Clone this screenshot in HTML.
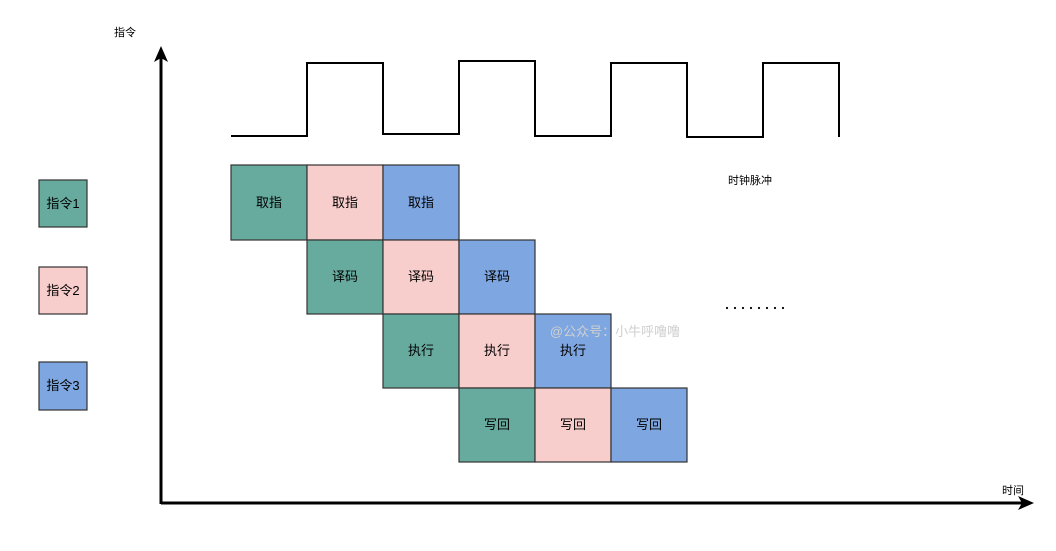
<!DOCTYPE html>
<html><head><meta charset="utf-8"><style>
html,body{margin:0;padding:0;background:#fff;}
text{font-family:"Liberation Sans","Noto Sans CJK SC",sans-serif;}
</style></head><body>
<svg width="1056" height="546" xmlns="http://www.w3.org/2000/svg">
<g stroke="#000" stroke-width="2" fill="none">
<polyline points="231,136 307,136 307,63 383,63 383,134 459,134 459,61 535,61 535,136 611,136 611,63 687,63 687,137 763,137 763,63 839,63 839,137"/>
</g>
<line x1="161" y1="504" x2="161" y2="58" stroke="#000" stroke-width="3"/>
<polygon points="161,46 154,62 161,58 168,62" fill="#000"/>
<line x1="161" y1="503" x2="1022" y2="503" stroke="#000" stroke-width="3"/>
<polygon points="1034,503 1018,496 1022,503 1018,510" fill="#000"/>
<g stroke="#333" stroke-width="1.2" font-size="13" text-anchor="middle">
<rect x="39" y="180" width="48" height="47" fill="#67ab9f"/>
<rect x="39" y="267" width="48" height="47" fill="#f8cecc"/>
<rect x="39" y="362" width="48" height="48" fill="#7ea6e0"/>
<rect x="231" y="165" width="76" height="75" fill="#67ab9f"/>
<rect x="307" y="165" width="76" height="75" fill="#f8cecc"/>
<rect x="383" y="165" width="76" height="75" fill="#7ea6e0"/>
<rect x="307" y="240" width="76" height="74" fill="#67ab9f"/>
<rect x="383" y="240" width="76" height="74" fill="#f8cecc"/>
<rect x="459" y="240" width="76" height="74" fill="#7ea6e0"/>
<rect x="383" y="314" width="76" height="74" fill="#67ab9f"/>
<rect x="459" y="314" width="76" height="74" fill="#f8cecc"/>
<rect x="535" y="314" width="76" height="74" fill="#7ea6e0"/>
<rect x="459" y="388" width="76" height="74" fill="#67ab9f"/>
<rect x="535" y="388" width="76" height="74" fill="#f8cecc"/>
<rect x="611" y="388" width="76" height="74" fill="#7ea6e0"/>
</g>
<g font-size="13" text-anchor="middle" fill="#000">
<text x="63" y="208">指令1</text>
<text x="63" y="295">指令2</text>
<text x="63" y="390">指令3</text>
<text x="269" y="207">取指</text><text x="345" y="207">取指</text><text x="421" y="207">取指</text>
<text x="345" y="281">译码</text><text x="421" y="281">译码</text><text x="497" y="281">译码</text>
<text x="421" y="355">执行</text><text x="497" y="355">执行</text><text x="573" y="355">执行</text>
<text x="497" y="429">写回</text><text x="573" y="429">写回</text><text x="649" y="429">写回</text>
<text x="125" y="36" font-size="11">指令</text>
<text x="1013" y="494" font-size="11">时间</text>
<text x="750" y="184" font-size="11">时钟脉冲</text>
<text x="615" y="336" font-size="13" fill="#d0d0d0">@公众号：小牛呼噜噜</text>
</g>
<g fill="#000">
<circle cx="727" cy="308" r="1.1"/><circle cx="735" cy="308" r="1.1"/><circle cx="743" cy="308" r="1.1"/><circle cx="751" cy="308" r="1.1"/>
<circle cx="759" cy="308" r="1.1"/><circle cx="767" cy="308" r="1.1"/><circle cx="775" cy="308" r="1.1"/><circle cx="783" cy="308" r="1.1"/>
</g>
</svg>
</body></html>
